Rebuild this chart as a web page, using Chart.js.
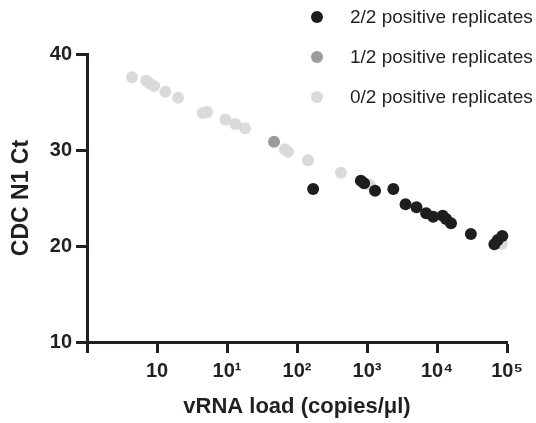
<!DOCTYPE html>
<html>
<head>
<meta charset="utf-8">
<script src="https://cdn.jsdelivr.net/npm/chart.js@4.4.0/dist/chart.umd.min.js"></script>
<style>
html,body{margin:0;padding:0;background:#ffffff;}
#wrap{width:536px;height:423px;position:relative;}
</style>
</head>
<body>
<div id="wrap"><canvas id="c" width="536" height="423"></canvas></div>
<script>
// ---- data ----
const seriesNames = ['2/2 positive replicates', '1/2 positive replicates', '0/2 positive replicates'];
const seriesColors = ['#1e1e1e', '#9b9b9b', '#dadada'];

// 2/2 positive replicates
const pos2Load = [170, 817, 910, 1303, 2378, 3556, 5096, 6998, 8810, 12060, 13490, 15850, 30480, 66070, 73790, 85700];
const pos2Ct   = [25.94, 26.80, 26.53, 25.76, 25.94, 24.34, 24.03, 23.40, 23.05, 23.16, 22.81, 22.36, 21.25, 20.18, 20.63, 21.04];

// 1/2 positive replicates
const pos1Load = [47];
const pos1Ct   = [30.86];

// 0/2 positive replicates
const pos0Load = [0.44, 0.70, 0.78, 0.91, 1.32, 2.0, 4.5, 5.2, 9.5, 13.2, 18.1, 67, 74.5, 144, 425, 1100, 84100];
const pos0Ct   = [37.57, 37.22, 36.95, 36.67, 36.07, 35.45, 33.85, 33.96, 33.16, 32.71, 32.26, 30.07, 29.82, 28.93, 27.64, 26.35, 20.21];

// ticks
const xTickValues = [0.1, 1, 10, 100, 1000, 10000, 100000];
const xTickLabels = ['', '10', '10\u00B9', '10\u00B2', '10\u00B3', '10\u2074', '10\u2075'];
const yTickValues = [10, 20, 30, 40];
const yTickLabels = ['10', '20', '30', '40'];

const xTitle = 'vRNA load (copies/\u03BCl)';
const yTitle = 'CDC N1 Ct';

// ---- build ----
const FONT = "'Liberation Sans', Arial, Helvetica, sans-serif";
const INK = '#231f20';

function pts(xs, ys) { return xs.map((x, i) => ({ x: x, y: ys[i] })); }

const loads = [pos2Load, pos1Load, pos0Load];
const cts = [pos2Ct, pos1Ct, pos0Ct];

const datasets = seriesNames.map((name, i) => ({
  label: name,
  data: pts(loads[i], cts[i]),
  backgroundColor: seriesColors[i],
  borderColor: seriesColors[i],
  borderWidth: 0,
  pointRadius: 6,
  pointHoverRadius: 6,
  clip: false
}));

const legendPlugin = {
  id: 'sideLegend',
  afterDraw(chart) {
    const ctx = chart.ctx;
    const rows = [17, 57, 97];
    ctx.save();
    chart.data.datasets.forEach((ds, i) => {
      ctx.beginPath();
      ctx.fillStyle = ds.backgroundColor;
      ctx.arc(317, rows[i], 6, 0, Math.PI * 2);
      ctx.fill();
      ctx.fillStyle = INK;
      ctx.font = '19px ' + FONT;
      ctx.textBaseline = 'middle';
      ctx.textAlign = 'left';
      ctx.fillText(ds.label, 350, rows[i] + 1);
    });
    ctx.restore();
  }
};

new Chart(document.getElementById('c'), {
  type: 'scatter',
  data: { datasets: datasets },
  plugins: [legendPlugin],
  options: {
    responsive: false,
    animation: false,
    devicePixelRatio: 1,
    layout: { padding: { top: 54, right: 29, left: 0, bottom: 0 } },
    plugins: { legend: { display: false }, tooltip: { enabled: false } },
    scales: {
      x: {
        type: 'logarithmic',
        min: 0.1,
        max: 100000,
        afterBuildTicks: s => { s.ticks = xTickValues.map(v => ({ value: v })); },
        afterFit: s => { s.height = 81; },
        ticks: {
          autoSkip: false,
          maxRotation: 0,
          padding: 6,
          color: INK,
          font: { family: FONT, size: 20, weight: 'bold' },
          callback: v => { const i = xTickValues.indexOf(v); return i >= 0 ? xTickLabels[i] : ''; }
        },
        grid: { display: true, drawOnChartArea: false, drawTicks: true, tickLength: 11, tickWidth: 3, tickColor: INK },
        border: { display: true, width: 3, color: INK },
        title: {
          display: true,
          text: xTitle,
          color: INK,
          font: { family: FONT, size: 22, weight: 'bold' },
          padding: { top: 0, bottom: 3 }
        }
      },
      y: {
        type: 'linear',
        min: 10,
        max: 40,
        afterBuildTicks: s => { s.ticks = yTickValues.map(v => ({ value: v })); },
        afterFit: s => { s.width = 87; },
        ticks: {
          padding: 4,
          color: INK,
          font: { family: FONT, size: 20, weight: 'bold' },
          callback: v => { const i = yTickValues.indexOf(v); return i >= 0 ? yTickLabels[i] : ''; }
        },
        grid: { display: true, drawOnChartArea: false, drawTicks: true, tickLength: 11, tickWidth: 3, tickColor: INK },
        border: { display: true, width: 3, color: INK },
        title: {
          display: true,
          text: yTitle,
          color: INK,
          font: { family: FONT, size: 23, weight: 'bold' },
          padding: { top: 8, bottom: 0 }
        }
      }
    }
  }
});
</script>
</body>
</html>
